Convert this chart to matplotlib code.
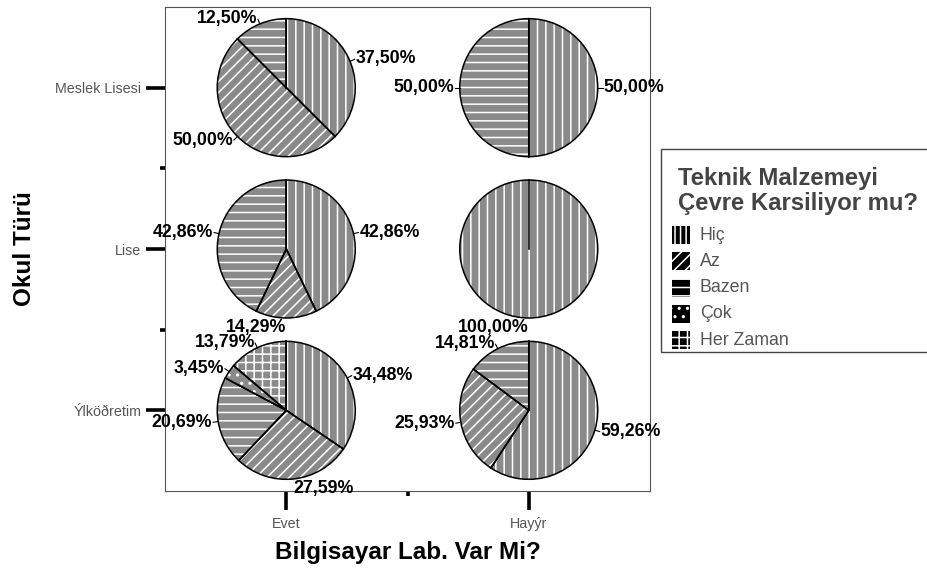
import math
import matplotlib
matplotlib.use("Agg")
import matplotlib.pyplot as plt
from matplotlib.patches import Wedge, Rectangle

plt.rcParams['font.family'] = ['Liberation Sans', 'DejaVu Sans']
plt.rcParams['hatch.linewidth'] = 1.1

# data (percent of answers per school type / lab status)
school_types = ['Ýlköðretim', 'Lise', 'Meslek Lisesi']
lab_answers = ['Evet', 'Hayýr']
categories = ['Hiç', 'Az', 'Bazen', 'Çok', 'Her Zaman']

ilkogretim_evet = [34.48, 27.59, 20.69, 3.45, 13.79]
ilkogretim_hayir = [59.26, 25.93, 14.81, 0, 0]
lise_evet = [42.86, 14.29, 42.86, 0, 0]
lise_hayir = [100.00, 0, 0, 0, 0]
meslek_evet = [37.50, 50.00, 12.50, 0, 0]
meslek_hayir = [50.00, 0, 50.00, 0, 0]

pie_rows = [
    [ilkogretim_evet, ilkogretim_hayir],
    [lise_evet, lise_hayir],
    [meslek_evet, meslek_hayir],
]

pie_hatches = ['||', '///', '--', '..', '++']
legend_hatches = ['|||', '///', '--', '..', '++']

W, H = 928, 572
fig = plt.figure(figsize=(W / 100, H / 100), dpi=100)
ax = fig.add_axes([165 / W, 1 - 491 / H, 485 / W, 484 / H])
ax.set_xlim(-0.5, 1.5)
ax.set_ylim(-0.5, 2.5)

# pixel scale of the main axes
ax_w_px, ax_h_px = 485, 484
px_x = ax_w_px / 2
px_y = ax_h_px / 3

R_PX = 69      # pie radius in pixels
BOX_PX = 200   # inset box size in pixels
lim = BOX_PX / 2 / R_PX
bw = BOX_PX / px_x
bh = BOX_PX / px_y

for i, row in enumerate(pie_rows):
    for j, vals in enumerate(row):
        iax = ax.inset_axes([j - bw / 2, i - bh / 2, bw, bh], transform=ax.transData)
        iax.set_xlim(-lim, lim)
        iax.set_ylim(-lim, lim)
        iax.axis('off')
        total = sum(vals)
        cum = 0
        for k, v in enumerate(vals):
            if v == 0:
                continue
            t2 = 90 - 360 * cum / total
            t1 = 90 - 360 * (cum + v) / total
            cum += v
            iax.add_patch(Wedge((0, 0), 1, t1, t2, facecolor='#8a8a8a', edgecolor='none'))
            iax.add_patch(Wedge((0, 0), 1, t1, t2, facecolor='none', edgecolor='white',
                                lw=0, hatch=pie_hatches[k]))
            iax.add_patch(Wedge((0, 0), 1, t1, t2, facecolor='none', edgecolor='black', lw=1.1))
            a2 = math.radians(t2)
            iax.plot([0, math.cos(a2)], [0, math.sin(a2)], color='black', lw=1.1)

            mid = math.radians((t1 + t2) / 2)
            c, s = math.cos(mid), math.sin(mid)
            r1 = 1 + 5 / R_PX
            r2 = 1 + 6 / R_PX
            ha = 'left' if c > 0.05 else 'right'
            if s < -0.95:
                va = 'top'
                r2 = 1 + 1 / R_PX
            elif s > 0.95:
                va = 'bottom'
            else:
                va = 'center'
                iax.plot([c, r1 * c], [s, r1 * s], color='black', lw=0.8, clip_on=False)
            label = f"{v:.2f}".replace('.', ',') + '%'
            iax.text(r2 * c, r2 * s, label, ha=ha, va=va, fontsize=12.8,
                     fontweight='bold', color='black', clip_on=False)

# axes styling
ax.set_xticks([0, 1])
ax.set_xticklabels(lab_answers)
ax.set_xticks([0.5], minor=True)
ax.set_yticks([0, 1, 2])
ax.set_yticklabels(school_types)
ax.set_yticks([0.5, 1.5], minor=True)
ax.tick_params(which='major', length=14, width=2.6, color='black',
               labelsize=10.3, labelcolor='#555555')
ax.tick_params(which='minor', length=3.6, width=2.6, color='black')
ax.tick_params(axis='x', which='major', pad=5)
ax.tick_params(axis='y', which='major', pad=3)
for sp in ax.spines.values():
    sp.set_color('#555555')
    sp.set_linewidth(0.8)

ax.set_xlabel('Bilgisayar Lab. Var Mi?', fontsize=17.5, fontweight='bold', va='center')
ax.xaxis.set_label_coords(0.5, (491 - 552) / ax_h_px)
ax.set_ylabel('Okul Türü', fontsize=17.5, fontweight='bold', va='center')
ax.yaxis.set_label_coords((25 - 165) / ax_w_px, 0.5)

# legend drawn by hand (box runs past the right edge)
fig.patches.append(Rectangle((661 / W, 1 - 352 / H), 290 / W, 203 / H,
                             transform=fig.transFigure, facecolor='white',
                             edgecolor='#444444', lw=1, clip_on=False))
fig.text(678 / W, 1 - 185 / H, 'Teknik Malzemeyi', fontsize=17.2, fontweight='bold',
         color='#444444', va='baseline', ha='left')
fig.text(678 / W, 1 - 210 / H, 'Çevre Karsiliyor mu?', fontsize=17.2, fontweight='bold',
         color='#444444', va='baseline', ha='left')
for k, name in enumerate(categories):
    yc = 235 + k * 26.3
    fig.patches.append(Rectangle((672 / W, 1 - (yc + 9) / H), 18 / W, 18 / H,
                                 transform=fig.transFigure, facecolor='black',
                                 edgecolor='none'))
    fig.patches.append(Rectangle((672 / W, 1 - (yc + 9) / H), 18 / W, 18 / H,
                                 transform=fig.transFigure, facecolor='none',
                                 edgecolor='white', lw=0, hatch=legend_hatches[k]))
    fig.text(700 / W, 1 - yc / H, name, fontsize=12.8, color='#555555',
             va='center', ha='left')

fig.savefig('out.png', dpi=100, facecolor='white')
